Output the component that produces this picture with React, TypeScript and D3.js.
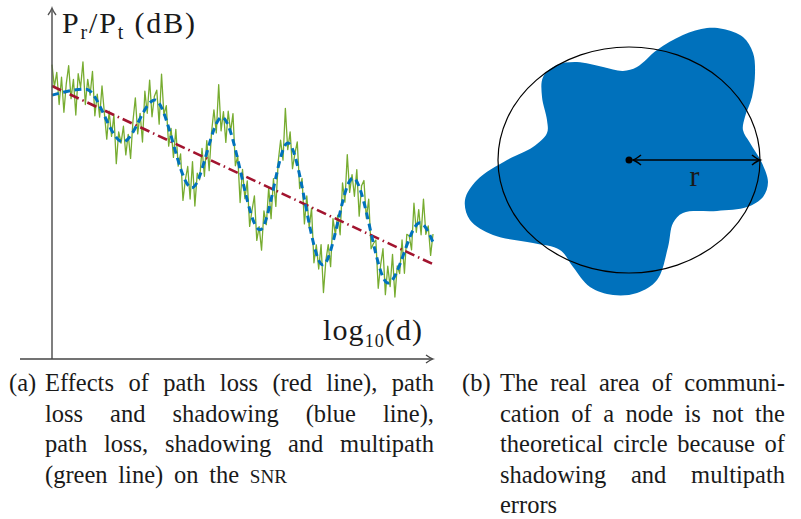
import React, { useLayoutEffect, useRef, useState } from 'react';
import * as d3 from 'd3';

const W = 801;
const H = 519;

// ---- Panel (a): received power (dB, arbitrary units) vs log10(d) (0..100) ----
const pathLossX = [0, 100];
const pathLossY = [78.0, 27.1];

const shadowX = [0, 8.9, 18.6, 27.0, 36.7, 44.6, 54.6, 61.9, 71.1, 79.0, 88.2, 96.6, 100];
const shadowY = [75.4, 77.1, 62.0, 74.0, 48.9, 69.1, 36.9, 61.7, 26.9, 51.7, 21.7, 38.9, 33.4];

const multipathStep = 0.625;
const multipathY = [
  84.1, 77.8, 81.9, 72.7, 80.5, 70.5, 78.7, 83.8, 74.4, 79.9, 69.7, 81.5, 77.5, 84.9, 72.7, 79.9, 75.4, 82.2, 69.5, 75.7,
  69.1, 78.0, 70.2, 62.8, 70.8, 63.6, 69.8, 55.8, 64.9, 61.7, 66.5, 58.3, 64.2, 57.3, 68.0, 74.6, 64.3, 70.2, 62.0, 76.5,
  70.2, 79.7, 69.2, 75.1, 76.8, 67.1, 81.4, 69.7, 72.4, 60.8, 65.9, 57.6, 65.6, 55.1, 58.6, 45.3, 51.2, 55.0, 45.7, 56.4,
  43.7, 53.1, 51.2, 60.2, 52.2, 62.4, 53.8, 64.8, 71.2, 64.6, 78.4, 65.2, 70.7, 61.9, 70.8, 64.9, 70.1, 55.2, 58.0, 44.7,
  54.2, 45.8, 50.9, 37.9, 42.5, 46.6, 33.9, 37.8, 31.1, 42.3, 38.4, 49.0, 40.1, 51.5, 43.6, 56.4, 62.5, 56.8, 71.6, 59.8,
  64.9, 54.4, 58.7, 62.0, 48.7, 51.6, 38.6, 46.6, 37.5, 43.1, 27.5, 32.6, 25.7, 32.7, 19.0, 28.1, 32.7, 26.4, 40.1, 35.5,
  41.1, 35.5, 50.3, 44.8, 58.4, 47.6, 52.7, 46.5, 54.1, 40.8, 49.5, 51.0, 40.2, 45.7, 31.5, 33.0, 34.0, 20.2, 26.8, 31.5,
  18.4, 26.5, 20.7, 29.9, 17.7, 26.6, 24.4, 34.0, 24.5, 35.6, 35.2, 31.2, 44.5, 36.2, 42.7, 35.5, 45.7, 35.6, 38.0, 29.6,
  35.7,
];

// ---- Panel (b): real communication area (normalised to the circle radius) ----
const areaX = [
  0.718, 0.870, 0.947, 0.962, 0.939, 0.885, 0.870, 0.924, 1.015, 1.061, 1.023, 0.901, 0.672, 0.412, 0.336, 0.298,
  0.214, 0.061, -0.122, -0.298, -0.427, -0.527, -0.733, -1.038, -1.214, -1.252, -1.160, -0.931, -0.733, -0.626,
  -0.626, -0.664, -0.656, -0.550, -0.397, -0.198, -0.046, 0.061, 0.214, 0.412, 0.595,
];
const areaY = [
  1.159, 1.088, 0.947, 0.770, 0.558, 0.381, 0.265, 0.150, -0.027, -0.195, -0.327, -0.416, -0.451, -0.469, -0.558,
  -0.770, -1.062, -1.177, -1.195, -1.124, -0.947, -0.796, -0.735, -0.664, -0.531, -0.354, -0.177, 0.0, 0.115, 0.239,
  0.354, 0.558, 0.735, 0.841, 0.867, 0.823, 0.788, 0.823, 0.973, 1.106, 1.168,
];
const radiusLabel = 'r';

// ---- Captions ----
const captionALabel = '(a)';
const captionALines = [
  'Effects of path loss (red line), path',
  'loss and shadowing (blue line),',
  'path loss, shadowing and multipath',
  '(green line) on the ',
];
const captionASmallCaps = 'SNR';
const captionBLabel = '(b)';
const captionBLines = [
  'The real area of communi-',
  'cation of a node is not the',
  'theoretical circle because of',
  'shadowing and multipath',
  'errors',
];

const BLUE = '#0072BD';
const GREEN = '#77AC30';
const RED = '#A2142F';
const SERIF = "'Liberation Serif', 'DejaVu Serif', serif";
const INK = '#1a1a1a';
const CAP_FONT = 24.5;

function JustifiedLine(props: {
  x: number;
  y: number;
  target: number | null;
  text: string;
  small?: string;
}) {
  const ref = useRef<SVGTextElement>(null);
  const [ws, setWs] = useState(0);
  useLayoutEffect(() => {
    const el = ref.current;
    if (!el || props.target == null) return;
    const natural = el.getComputedTextLength();
    const full = props.text + (props.small || '');
    const spaces = (full.match(/ /g) || []).length;
    if (spaces > 0) setWs((props.target - natural) / spaces);
  }, [props.text, props.target, props.small]);
  return (
    <text
      ref={ref}
      x={props.x}
      y={props.y}
      fontFamily={SERIF}
      fontSize={CAP_FONT}
      fill={INK}
      wordSpacing={ws}
      style={{ whiteSpace: 'pre' }}
    >
      {props.text}
      {props.small ? <tspan fontSize={CAP_FONT * 0.78}>{props.small}</tspan> : null}
    </text>
  );
}

export default function App() {
  const xL = d3.scaleLinear().domain([0, 100]).range([52, 433]);
  const yL = d3.scaleLinear().domain([0, 100]).range([359, 9]);

  const xR = d3.scaleLinear().domain([-1, 1]).range([498, 760]);
  const yR = d3.scaleLinear().domain([-1, 1]).range([273, 47]);

  const redPath = d3.line<number>().x((_, i) => xL(pathLossX[i])).y((d) => yL(d))(pathLossY) || '';
  const bluePath =
    d3.line<number>().x((_, i) => xL(shadowX[i])).y((d) => yL(d)).curve(d3.curveMonotoneX)(shadowY) || '';
  const greenPath =
    d3.line<number>().x((_, i) => xL(i * multipathStep)).y((d) => yL(d))(multipathY) || '';

  const blobPath =
    d3
      .line<number>()
      .x((_, i) => xR(areaX[i]))
      .y((d) => yR(d))
      .curve(d3.curveCatmullRomClosed.alpha(0.5))(areaY) || '';

  const ox = xL(0);
  const oy = yL(0);
  const axisTop = 8;
  const axisRight = 433;
  const axisLeft = 20;

  const cx = xR(0);
  const cy = yR(0);
  const rx = xR(1) - xR(0);
  const ry = yR(0) - yR(1);
  const arrowL = cx + 4;
  const arrowR = xR(1);

  const baselines = [391, 421.5, 452, 482.5, 513];

  return (
    <svg
      width={W}
      height={H}
      viewBox={`0 0 ${W} ${H}`}
      style={{ position: 'absolute', left: 0, top: 0, background: '#fff' }}
    >
      <rect width={W} height={H} fill="#fff" />

      {/* ---- Panel (a) ---- */}
      <path d={greenPath} fill="none" stroke={GREEN} strokeWidth={1.3} strokeLinejoin="round" />
      <path d={redPath} fill="none" stroke={RED} strokeWidth={2.6} strokeDasharray="10,4,1.5,4" />
      <path d={bluePath} fill="none" stroke={BLUE} strokeWidth={3} strokeDasharray="7,4.5" />

      {/* axes */}
      <line x1={ox} y1={oy} x2={ox} y2={axisTop + 1} stroke="#555" strokeWidth={1.5} />
      <path
        d={`M${ox - 4},${axisTop + 7} Q${ox - 1},${axisTop + 3} ${ox},${axisTop} Q${ox + 1},${axisTop + 3} ${ox + 4},${axisTop + 7}`}
        fill="none"
        stroke="#555"
        strokeWidth={1.3}
      />
      <line x1={axisLeft} y1={oy} x2={axisRight - 1} y2={oy} stroke="#444" strokeWidth={1.4} />
      <path
        d={`M${axisRight - 7},${oy - 4} Q${axisRight - 3},${oy - 1} ${axisRight},${oy} Q${axisRight - 3},${oy + 1} ${axisRight - 7},${oy + 4}`}
        fill="none"
        stroke="#444"
        strokeWidth={1.3}
      />

      <text
        x={62}
        y={33}
        fontFamily={SERIF}
        fontSize={30}
        fill={INK}
        textLength={133}
        lengthAdjust="spacing"
        style={{ whiteSpace: 'pre' }}
      >
        P<tspan fontSize={20} dy={6}>r</tspan>
        <tspan dy={-6}>/P</tspan>
        <tspan fontSize={20} dy={6}>t</tspan>
        <tspan dy={-6}> (dB)</tspan>
      </text>

      <text
        x={323}
        y={340}
        fontFamily={SERIF}
        fontSize={30}
        fill={INK}
        textLength={99}
        lengthAdjust="spacing"
      >
        log<tspan fontSize={18} dy={7}>10</tspan>
        <tspan dy={-7}>(d)</tspan>
      </text>

      {/* ---- Panel (b) ---- */}
      <path d={blobPath} fill="#0071BC" stroke="none" />
      <ellipse cx={cx} cy={cy} rx={rx} ry={ry} fill="none" stroke="#000" strokeWidth={1.2} />
      <line x1={arrowL} y1={cy} x2={arrowR} y2={cy} stroke="#000" strokeWidth={1.6} />
      <path
        d={`M${arrowR - 8},${cy - 5} Q${arrowR - 3},${cy - 1} ${arrowR},${cy} Q${arrowR - 3},${cy + 1} ${arrowR - 8},${cy + 5}`}
        fill="none"
        stroke="#000"
        strokeWidth={1.6}
      />
      <path
        d={`M${arrowL + 8},${cy - 5} Q${arrowL + 3},${cy - 1} ${arrowL},${cy} Q${arrowL + 3},${cy + 1} ${arrowL + 8},${cy + 5}`}
        fill="none"
        stroke="#000"
        strokeWidth={1.6}
      />
      <circle cx={cx} cy={cy} r={3.5} fill="#000" />
      <text x={xR(0.5)} y={cy + 26} fontFamily={SERIF} fontSize={30} fill={INK} textAnchor="middle">
        {radiusLabel}
      </text>

      {/* ---- Captions ---- */}
      <text x={9} y={baselines[0]} fontFamily={SERIF} fontSize={CAP_FONT} fill={INK}>
        {captionALabel}
      </text>
      {captionALines.map((line, i) => (
        <JustifiedLine
          key={`a${i}`}
          x={45}
          y={baselines[i]}
          target={i < captionALines.length - 1 ? 389 : 242}
          text={line}
          small={i === captionALines.length - 1 ? captionASmallCaps : undefined}
        />
      ))}

      <text x={462} y={baselines[0]} fontFamily={SERIF} fontSize={CAP_FONT} fill={INK}>
        {captionBLabel}
      </text>
      {captionBLines.map((line, i) => (
        <JustifiedLine
          key={`b${i}`}
          x={500}
          y={baselines[i]}
          target={i < captionBLines.length - 1 ? 285 : null}
          text={line}
        />
      ))}
    </svg>
  );
}
